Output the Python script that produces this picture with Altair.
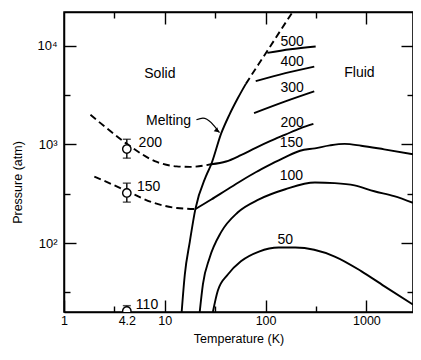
import altair as alt
import pandas as pd

# ---- curves (T in K, P in atm) ----
melt_T = [14.7, 15.8, 17.7, 20.1, 25.5, 28.9, 36.2, 43.7, 52.8, 63.7]
melt_P = [20, 48, 103, 221, 471, 629, 1285, 1995, 2917, 4110]
meltd_T = [63.7, 85.1, 103, 138, 189]
meltd_P = [4110, 6490, 8730, 13870, 22700]
s200_T = [1.83, 2.7, 4.24, 8.35, 13.1, 17.7, 28.9]
s200_P = [1995, 1440, 1007, 664, 599, 592, 629]
s150_T = [2.0, 3.02, 4.24, 7.75, 13.1, 20.1]
s150_P = [471, 393, 335, 256, 227, 221]
f50_T = [30.0, 33.6, 42.2, 56.9, 86, 135, 197, 485, 887, 1500, 2900]
f50_P = [20, 33, 48, 65.3, 82, 90, 90, 73, 52, 36.6, 23.8]
f100_T = [22.2, 23.9, 27.8, 36.2, 52.8, 86, 157, 309, 485, 763, 1197, 1882, 2900]
f100_P = [20, 38.4, 70.6, 129, 204, 277, 351, 411, 405, 384, 335, 299, 256]
f150_T = [20.1, 28.9, 40.5, 56.9, 79.8, 112, 157, 220, 309, 434, 608, 887, 1500, 2900]
f150_P = [221, 276, 343, 426, 522, 627, 743, 863, 913, 977, 1012, 970, 891, 796]
f200_T = [28.9, 40.5, 56.9, 79.8, 112, 157, 220, 298]
f200_P = [629, 671, 778, 923, 1084, 1256, 1455, 1614]
f300_T = [76.8, 157, 304]
f300_P = [2075, 2729, 3450]
f400_T = [79.8, 157, 304]
f400_P = [4376, 5285, 6150]
f500_T = [104, 176, 314]
f500_P = [8470, 9230, 9840]

# melting arrow (line + head)
arrow_T = [20.6, 23.9, 34.9]
arrow_P = [1778, 1849, 1315]
head_T = [33.1]
head_P = [1377]

# data points with error bars (at 4.2 K)
pt_T = [4.2, 4.2, 4.2]
pt_P = [898, 322, 20.5]
pt_lo = [726, 260, 18]
pt_hi = [1128, 405, 23.2]

# labels
lab_text = ["Solid", "Fluid", "Melting", "500", "400", "300", "200", "150", "100", "50", "200", "150", "110"]
lab_T = [8.93, 853, 10.9, 183, 183, 183, 183, 180, 180, 157, 7.18, 6.92, 6.66]
lab_P = [5170, 5290, 1740, 11040, 6840, 3720, 1652, 1024, 479, 107, 1024, 369, 23.4]

# axis ticks
xb_vals = [1, 3.16, 4.2, 10, 31.6, 100, 316, 1000]
xt_vals = [3.16, 10, 31.6, 100, 316, 1000]
y_vals = [31.6, 100, 316, 1000, 3162, 10000]

solid_curves = {"melt": (melt_T, melt_P), "f50": (f50_T, f50_P), "f100": (f100_T, f100_P),
                "f150": (f150_T, f150_P), "f200": (f200_T, f200_P), "f300": (f300_T, f300_P),
                "f400": (f400_T, f400_P), "f500": (f500_T, f500_P)}
dashed_curves = {"meltd": (meltd_T, meltd_P), "s200": (s200_T, s200_P), "s150": (s150_T, s150_P)}


def to_df(curves):
    rows = []
    for name, (ts, ps) in curves.items():
        for i, (t, p) in enumerate(zip(ts, ps)):
            rows.append({"curve": name, "i": i, "T": t, "P": p})
    return pd.DataFrame(rows)


solid_df = to_df(solid_curves)
dashed_df = to_df(dashed_curves)
arrow_df = pd.DataFrame({"T": arrow_T, "P": arrow_P, "i": range(len(arrow_T))})
head_df = pd.DataFrame({"T": head_T, "P": head_P})
pt_df = pd.DataFrame({"T": pt_T, "P": pt_P, "lo": pt_lo, "hi": pt_hi})
cap_df = pd.DataFrame({"T": pt_T * 2, "P": pt_lo + pt_hi})
lab_df = pd.DataFrame({"text": lab_text, "T": lab_T, "P": lab_P})

xs = alt.Scale(type="log", domain=[1, 2900], nice=False)
ys = alt.Scale(type="log", domain=[20, 22000], nice=False)

FONT = "Liberation Sans"

x_bottom = alt.Axis(
    values=xb_vals, format="~g", title="Temperature (K)", grid=False,
    labelExpr="(datum.value == 1 || datum.value == 4.2 || datum.value == 10 || datum.value == 100 || datum.value == 1000) ? datum.label : ''",
    tickSize={"expr": "datum.value == 4.2 ? 0 : ((datum.value == 1 || datum.value == 10 || datum.value == 100 || datum.value == 1000) ? -12 : -6)"},
    labelPadding={"expr": "datum.value == 4.2 ? 2 : 14"},
    labelFlush=False, labelOverlap=False, titlePadding=0, labelFontSize=12.5,
)
y_left = alt.Axis(
    values=y_vals, title="Pressure (atm)", grid=False,
    labelExpr="datum.value == 100 ? '10²' : datum.value == 1000 ? '10³' : datum.value == 10000 ? '10⁴' : ''",
    tickSize={"expr": "(datum.value == 100 || datum.value == 1000 || datum.value == 10000) ? -12 : -6"},
    labelPadding={"expr": "(datum.value == 100 || datum.value == 1000 || datum.value == 10000) ? 19 : 10"},
    labelFlush=False, labelOverlap=False, titlePadding=12, labelFontSize=13, titleY=170,
)
x_top = alt.Axis(
    orient="top", values=xt_vals, labels=False, title=None, grid=False,
    tickSize={"expr": "(datum.value == 10 || datum.value == 100 || datum.value == 1000) ? -12 : -6"},
)
y_right = alt.Axis(
    orient="right", values=y_vals, labels=False, title=None, grid=False,
    tickSize={"expr": "(datum.value == 100 || datum.value == 1000 || datum.value == 10000) ? -12 : -6"},
)

solid = alt.Chart(solid_df).mark_line(color="black", strokeWidth=1.9, clip=True, interpolate="monotone").encode(
    x=alt.X("T:Q", scale=xs, axis=x_bottom),
    y=alt.Y("P:Q", scale=ys, axis=y_left),
    detail="curve:N", order="i:Q",
)
dashed = alt.Chart(dashed_df).mark_line(color="black", strokeWidth=1.9, strokeDash=[7, 4], clip=True, interpolate="monotone").encode(
    x=alt.X("T:Q", scale=xs, axis=None),
    y=alt.Y("P:Q", scale=ys, axis=None),
    detail="curve:N", order="i:Q",
)
arrow = alt.Chart(arrow_df).mark_line(color="black", strokeWidth=1.3, interpolate="monotone").encode(
    x=alt.X("T:Q", scale=xs, axis=None),
    y=alt.Y("P:Q", scale=ys, axis=None),
    order="i:Q",
)
head = alt.Chart(head_df).mark_point(shape="triangle-right", filled=True, color="black", size=28, angle=42, opacity=1).encode(
    x=alt.X("T:Q", scale=xs, axis=None),
    y=alt.Y("P:Q", scale=ys, axis=None),
)
err = alt.Chart(pt_df).mark_rule(color="black", strokeWidth=1.4, clip=True).encode(
    x=alt.X("T:Q", scale=xs, axis=None),
    y=alt.Y("lo:Q", scale=ys, axis=None),
    y2="hi:Q",
)
caps = alt.Chart(cap_df).mark_tick(color="black", orient="horizontal", size=8, thickness=1.4, clip=True).encode(
    x=alt.X("T:Q", scale=xs, axis=None),
    y=alt.Y("P:Q", scale=ys, axis=None),
)
pts = alt.Chart(pt_df).mark_point(shape="circle", size=70, filled=False, fill="white", fillOpacity=1,
                                  stroke="black", strokeWidth=1.4, opacity=1, clip=True).encode(
    x=alt.X("T:Q", scale=xs, axis=None),
    y=alt.Y("P:Q", scale=ys, axis=None),
)
labels = alt.Chart(lab_df).mark_text(font=FONT, fontSize=14, color="black", align="center", baseline="middle").encode(
    x=alt.X("T:Q", scale=xs, axis=x_top),
    y=alt.Y("P:Q", scale=ys, axis=y_right),
    text="text:N",
)

chart = alt.layer(solid, dashed, arrow, head, err, caps, pts, labels).resolve_axis(
    x="independent", y="independent"
).properties(
    width=349, height=300,
    padding={"left": 56, "top": 4, "right": 0, "bottom": 36},
    autosize=alt.AutoSizeParams(type="none"),
).configure_view(
    stroke="black", strokeWidth=1.5
).configure_axis(
    domainColor="black", domainWidth=1.5, tickColor="black", tickWidth=1.4,
    labelFont=FONT, labelColor="black",
    titleFont=FONT, titleFontSize=12.5, titleFontWeight="normal", titleColor="black",
)

chart.save("out.html", embed_options={"renderer": "svg", "actions": False})
